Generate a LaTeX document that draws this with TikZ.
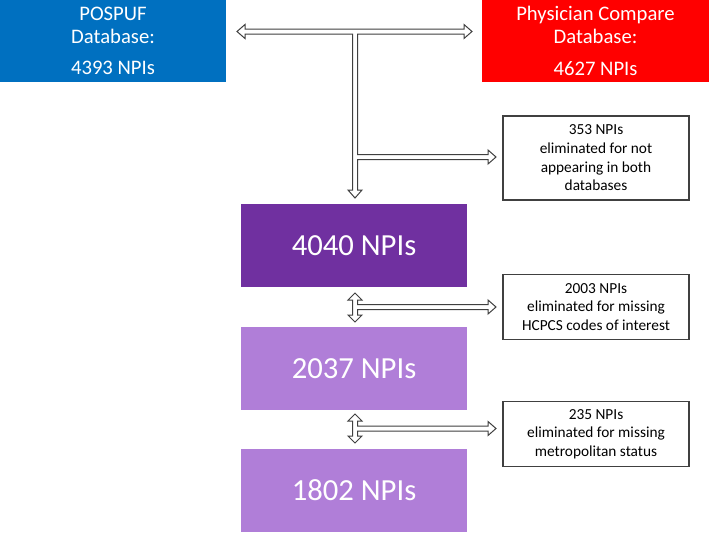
\documentclass[tikz,border=0pt]{standalone}
\usepackage{fontspec}
\setmainfont{Carlito}
\definecolor{dbblue}{HTML}{0070C0}
\definecolor{dbred}{HTML}{FF0000}
\definecolor{darkpurple}{HTML}{7030A0}
\definecolor{lightpurple}{HTML}{B07ED8}
\definecolor{edgegray}{HTML}{404040}
\begin{document}
\begin{tikzpicture}[x=0.75pt,y=-0.75pt,
  dbbox/.style={draw=none,text=white,minimum width=170pt,minimum height=61.5pt,inner sep=0pt,align=center,font=\fontsize{15.5}{17.25}\selectfont},
  bigbox/.style={draw=none,text=white,minimum width=169.5pt,minimum height=62pt,inner sep=0pt,font=\fontsize{23}{27}\selectfont},
  notebox/.style={draw=edgegray,line width=0.8pt,fill=white,minimum width=139.5pt,inner sep=0pt,align=center,font=\fontsize{11.5}{14}\selectfont},
  hollow/.style={draw=edgegray,line width=0.75pt,fill=white,line join=miter}]
\useasboundingbox (0,0) rectangle (709,532);
\fill[white] (0,0) rectangle (709,532);
% database boxes
\node[dbbox,fill=dbblue] (pospuf) at (113,41) {POSPUF\\Database:\\[6.5pt]4393 NPIs};
\node[dbbox,fill=dbred] (physcomp) at (595.5,41) {Physician Compare\\Database:\\[6.5pt]4627 NPIs};
% main boxes
\node[bigbox,fill=darkpurple] (n4040) at (354,245.5) {4040 NPIs};
\node[bigbox,fill=lightpurple] (n2037) at (354,368.5) {2037 NPIs};
\node[bigbox,fill=lightpurple] (n1802) at (354,490.5) {1802 NPIs};
% note boxes
\node[notebox,minimum height=63pt] (e353) at (596,158) {353 NPIs\\eliminated for not\\appearing in both\\databases};
\node[notebox,minimum height=49pt] (e2003) at (596,307) {2003 NPIs\\eliminated for missing\\HCPCS codes of interest};
\node[notebox,minimum height=49pt] (e235) at (596,434) {235 NPIs\\eliminated for missing\\metropolitan status};
% anchors for hollow arrows
\coordinate (tl) at (237,31.5);
\coordinate (tr) at (472,31.5);
% top T-shaped hollow arrow
\draw[hollow] (237,31.5) -- (245,24.5) -- (245,29) -- (464,29) -- (464,24.5) -- (472,31.5)
  -- (464,38.5) -- (464,34) -- (357.5,34) -- (357.5,154.5) -- (488,154.5) -- (488,150)
  -- (496,157) -- (488,164) -- (488,159.5) -- (357.5,159.5) -- (357.5,190) -- (362,190)
  -- (355,198) -- (348,190) -- (352.5,190) -- (352.5,34) -- (245,34) -- (245,38.5) -- cycle;
% second hollow arrow
\draw[hollow] (355,293) -- (362,300) -- (357.5,300) -- (357.5,304.5) -- (488,304.5) -- (488,300)
  -- (496,307) -- (488,314) -- (488,309.5) -- (357.5,309.5) -- (357.5,315) -- (362,315)
  -- (355,322) -- (348,315) -- (352.5,315) -- (352.5,300) -- (348,300) -- cycle;
% third hollow arrow
\draw[hollow] (355,414) -- (362,421) -- (357.5,421) -- (357.5,426) -- (488,426) -- (488,421.5)
  -- (496,428.5) -- (488,435.5) -- (488,431) -- (357.5,431) -- (357.5,436) -- (362,436)
  -- (355,443) -- (348,436) -- (352.5,436) -- (352.5,421) -- (348,421) -- cycle;
\end{tikzpicture}
\end{document}
